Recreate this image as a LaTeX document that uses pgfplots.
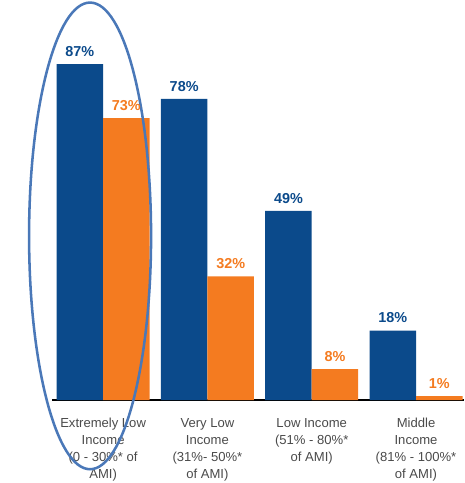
\documentclass[border=0pt]{standalone}
\usepackage{pgfplots}
\pgfplotsset{compat=1.18}
\usepackage{fontspec}
\setmainfont{Liberation Sans}
\definecolor{cblue}{HTML}{0B4A8B}
\definecolor{corange}{HTML}{F47B20}
\definecolor{cellipse}{HTML}{4A78B8}
\definecolor{ctext}{HTML}{4A4A4A}
\begin{document}
\begin{tikzpicture}
\begin{axis}[
  scale only axis,
  width=309pt, height=300pt,
  xmin=-0.49, xmax=3.46,
  ymin=0, ymax=103.6,
  axis x line*=bottom,
  axis y line=none,
  x axis line style={-, black, line width=1.5pt},
  xtick={0,1,2,3},
  xticklabels={{Extremely Low\\Income\\(0 - 30\%* of\\AMI)},{Very Low\\Income\\(31\%- 50\%*\\of AMI)},{Low Income\\(51\% - 80\%*\\of AMI)},{Middle\\Income\\(81\% - 100\%*\\of AMI)}},
  xticklabel style={align=center, font=\fontsize{9.8}{12.75}\selectfont, text=ctext, yshift=-10pt},
  major tick length=0pt,
  ybar, bar width=0.446,
  /pgf/number format/assume math mode=true,
  nodes near coords={\pgfmathprintnumber{\pgfplotspointmeta}\%},
  every node near coord/.append style={font=\bfseries\fontsize{10.8}{12}\selectfont, yshift=2pt},
  clip=false,
]
\addplot[fill=cblue, draw=none, bar shift=-0.223, every node near coord/.append style={text=cblue}] coordinates {(0,87) (1,78) (2,49) (3,18)};
\addplot[fill=corange, draw=none, bar shift=0.223, every node near coord/.append style={text=corange}] coordinates {(0,73) (1,32) (2,8) (3,1)};
\draw[cellipse, line width=1.9pt] (axis cs:-0.125,42.5) ellipse [x radius=45.75pt, y radius=175pt];
\coordinate (bl) at (rel axis cs:0,0);
\coordinate (tr) at (rel axis cs:1,1);
\end{axis}
\pgfresetboundingbox
\path ([xshift=-39pt,yshift=-62.25pt]bl) rectangle (tr);
\end{tikzpicture}
\end{document}
